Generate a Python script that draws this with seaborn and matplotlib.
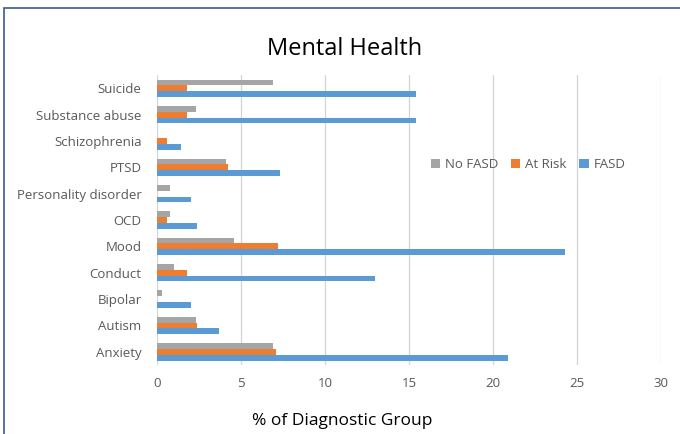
import matplotlib
matplotlib.use("Agg")
import matplotlib.pyplot as plt
from matplotlib.patches import Rectangle
import seaborn as sns
import pandas as pd

categories = ["Suicide", "Substance abuse", "Schizophrenia", "PTSD",
              "Personality disorder", "OCD", "Mood", "Conduct",
              "Bipolar", "Autism", "Anxiety"]
no_fasd = [6.9, 2.3, 0.0, 4.1, 0.8, 0.8, 4.6, 1.0, 0.3, 2.3, 6.9]
at_risk = [1.8, 1.8, 0.6, 4.2, 0.0, 0.6, 7.2, 1.8, 0.0, 2.4, 7.1]
fasd = [15.4, 15.4, 1.4, 7.3, 2.0, 2.4, 24.3, 13.0, 2.0, 3.7, 20.9]
groups = ["No FASD", "At Risk", "FASD"]
colors = ["#A5A5A5", "#ED7D31", "#5B9BD5"]
x_ticks = [0, 5, 10, 15, 20, 25, 30]

df = pd.DataFrame({
    "Condition": categories * 3,
    "Group": [groups[0]] * len(categories) + [groups[1]] * len(categories)
             + [groups[2]] * len(categories),
    "Value": no_fasd + at_risk + fasd,
})

sns.set_style("white")
plt.rcParams["font.family"] = ["Open Sans", "DejaVu Sans"]

fig = plt.figure(figsize=(6.8, 4.34), dpi=100)
ax = fig.add_axes([0.2309, 0.159, 0.7412, 0.668])

sns.barplot(data=df, y="Condition", x="Value", hue="Group",
            order=categories, hue_order=groups, palette=colors,
            orient="h", width=0.66, saturation=1, linewidth=0,
            ax=ax, legend=True)

ax.set_xlim(0, 30)
ax.set_xticks(x_ticks)
ax.xaxis.grid(True, color="#D4D4D4", linewidth=0.9)
ax.set_axisbelow(True)
for s in ax.spines.values():
    s.set_visible(False)
ax.tick_params(axis="both", length=0, colors="#595959", labelsize=9.5)
ax.tick_params(axis="y", pad=11)
ax.tick_params(axis="x", pad=9)
ax.set_ylabel("")
ax.set_xlabel("% of Diagnostic Group", fontsize=12.5, color="black")
ax.xaxis.set_label_coords(0.367, -0.165)

leg = ax.legend(loc="center", bbox_to_anchor=(0.736, 0.69), ncol=3,
                frameon=False, fontsize=9.5, handlelength=0.7,
                handleheight=0.7, handletextpad=0.35, columnspacing=1.0)
for t in leg.get_texts():
    t.set_color("#595959")

fig.text(0.507, 0.888, "Mental Health", ha="center", va="center",
         fontsize=17, color="black")

# chart frame
fig.patches.append(Rectangle((4 / 680, -0.1), 1.2, 1 - 8 / 434 + 0.1,
                             transform=fig.transFigure, fill=False,
                             edgecolor="#3B5A8C", linewidth=1.2))

fig.savefig("out.png", dpi=100)
